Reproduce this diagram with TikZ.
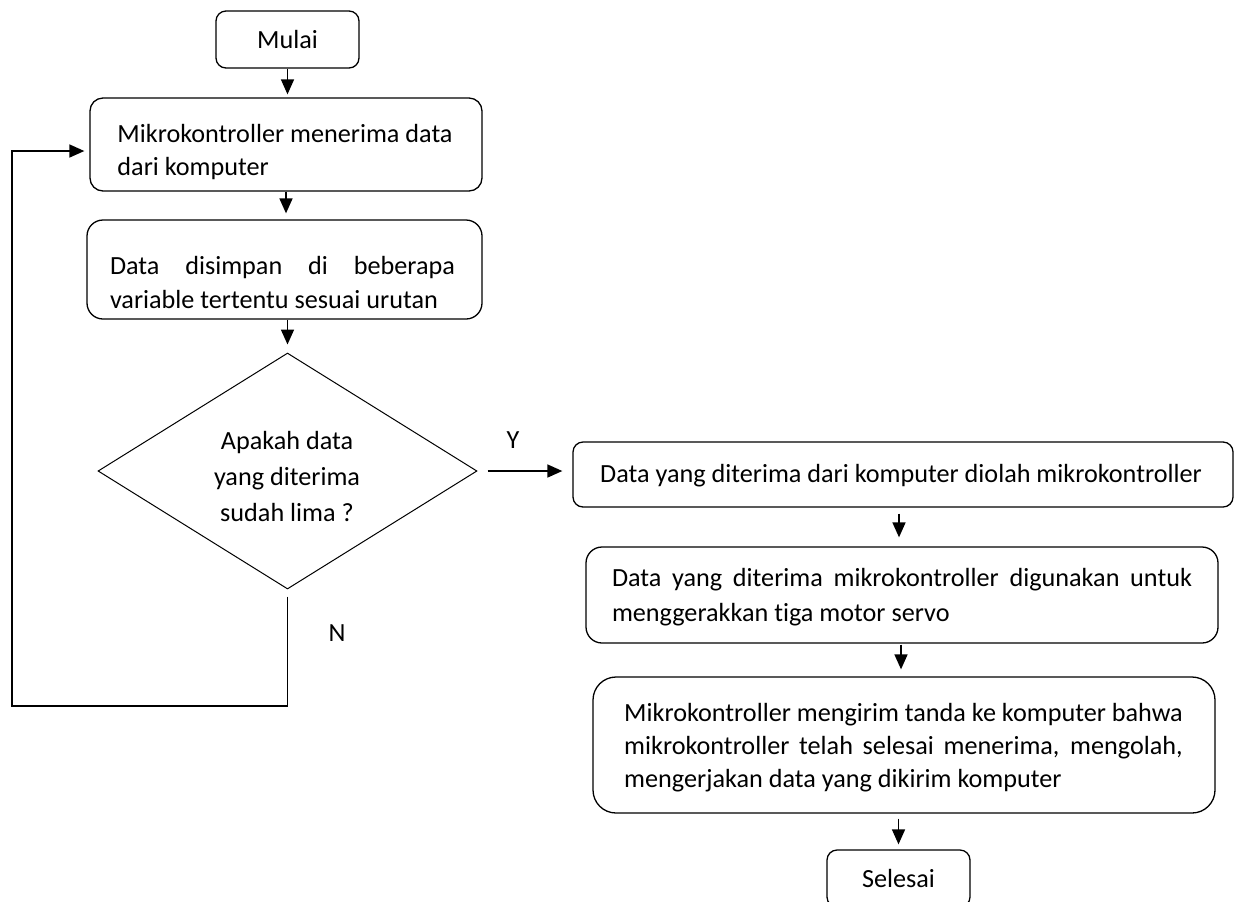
\documentclass[tikz,border=0pt]{standalone}
\usepackage{fontspec}
\setmainfont{Carlito}[Ligatures={NoCommon,NoContextual},Contextuals={NoAlternate}]
\usetikzlibrary{shapes.geometric,arrows.meta}
\newlength\linefive
\begin{document}
\settowidth{\linefive}{\fontsize{13.1}{16.5}\selectfont Mikrokontroller mengirim tanda ke komputer bahwa}%
\begin{tikzpicture}[x=0.5pt,y=-0.5pt,
  every node/.style={font=\fontsize{13.1}{16.5}\selectfont},
  boxshape/.style={draw, line width=0.65pt, rounded corners=#1, inner sep=0pt},
  boxshape/.default=5pt,
  txt/.style={align=left, inner sep=0pt},
  arr/.style={line width=0.8pt, -{Triangle[length=7.5pt,width=6.5pt]}},
]
\useasboundingbox (0,0) rectangle (1240,901);

% boxes
\node[boxshape=5pt, minimum width=71.5pt, minimum height=28.5pt] (start) at (287.5,39.5) {Mulai};
\node[boxshape=6.5pt, minimum width=196pt, minimum height=46.5pt] (b1) at (286,144.5) {};
\node[boxshape=8pt, minimum width=197.5pt, minimum height=49.5pt] (b2) at (284.5,269.5) {};
\node[draw, diamond, line width=0.5pt, minimum width=189.5pt, minimum height=118pt, inner sep=0pt] (dec) at (287.5,471) {};
\node[boxshape=5pt, minimum width=330pt, minimum height=32.5pt] (b3) at (903,474.5) {};
\node[boxshape=8pt, minimum width=316pt, minimum height=48pt] (b4) at (902,595) {};
\node[boxshape=11.5pt, minimum width=311pt, minimum height=68pt] (b5) at (904,745) {};
\node[boxshape=5pt, minimum width=71.5pt, minimum height=28.5pt] (finish) at (898.5,878.5) {Selesai};

% texts
\node[txt] (t1) at (285,152.4) {\strut Mikrokontroller menerima data\\dari komputer\strut};
\node[txt, font=\fontsize{13.1}{17}\selectfont] (t2) at (282.5,284.6) {\strut\makebox[172.5pt][s]{Data disimpan di beberapa}\\variable tertentu sesuai urutan\strut};
\node[align=center, inner sep=0pt, font=\fontsize{13.1}{18}\selectfont] (tq) at (287,478) {\strut Apakah data\\yang diterima\\sudah lima ?\strut};
\node[txt] (t3) at (901,476) {\strut Data yang diterima dari komputer diolah mikrokontroller\strut};
\node[txt, font=\fontsize{13.1}{17.5}\selectfont] (t4) at (902,597.4) {\strut\makebox[290pt][s]{Data yang diterima mikrokontroller digunakan untuk}\\menggerakkan tiga motor servo\strut};
\node[txt] (t5) at (903.5,747.8) {\strut Mikrokontroller mengirim tanda ke komputer bahwa\\\makebox[\linefive][s]{mikrokontroller telah selesai menerima, mengolah,}\\mengerjakan data yang dikirim komputer\strut};

% labels
\node[inner sep=0pt] (ly) at (513,440) {Y};
\node[inner sep=0pt] (ln) at (337,633) {N};

% connectors
\coordinate (lb) at (12,706);
\draw[arr, shorten >=1.5pt] (start.south) -- (start.south |- b1.north);
\draw[arr, shorten >=3pt] (b1.south) -- (b1.south |- b2.north);
\draw[arr, shorten >=4pt] (dec.north |- b2.south) -- (dec.north);
\draw[arr, shorten <=5pt, shorten >=5pt] (dec.east) -- (dec.east -| b3.west);
\draw[arr, shorten <=3pt, shorten >=4.5pt] ([xshift=-2pt]b3.south) -- ([xshift=-2pt]b3.south |- b4.north);
\draw[arr, shorten <=0.5pt, shorten >=3.5pt] ([xshift=-0.5pt]b4.south) -- ([xshift=-0.5pt]b4.south |- b5.north);
\draw[arr, shorten <=2.5pt, shorten >=2.5pt] (finish.north |- b5.south) -- (finish.north);
\draw[arr, shorten <=3.5pt, shorten >=2.5pt] (dec.south) -- (dec.south |- lb) -- (lb) |- ([yshift=-3.25pt]b1.west);
\end{tikzpicture}
\end{document}
